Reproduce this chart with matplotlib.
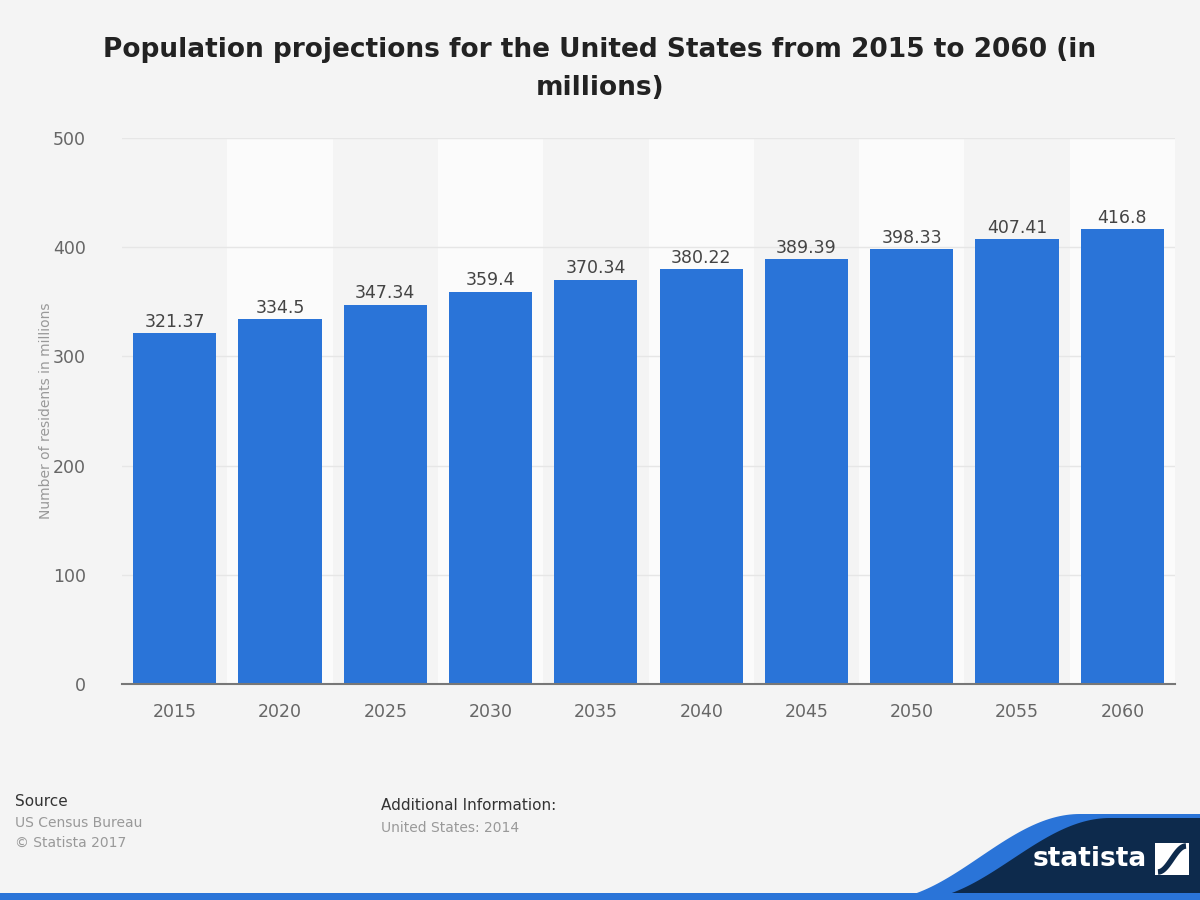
import numpy as np
import matplotlib.pyplot as plt
from matplotlib.patches import Polygon, Rectangle

years = ['2015', '2020', '2025', '2030', '2035', '2040', '2045', '2050', '2055', '2060']
residents = [321.37, 334.5, 347.34, 359.4, 370.34, 380.22, 389.39, 398.33, 407.41, 416.8]
value_labels = ['321.37', '334.5', '347.34', '359.4', '370.34', '380.22', '389.39', '398.33', '407.41', '416.8']

bg = '#f4f4f4'
bar_color = '#2a74d8'

fig = plt.figure(figsize=(12, 9), dpi=100, facecolor=bg)

# decoration layer in pixel coords
deco = fig.add_axes([0, 0, 1, 1], zorder=0)
deco.set_xlim(0, 1200)
deco.set_ylim(900, 0)
deco.axis('off')

t = np.linspace(0, 1, 60)
s = 0.5 - 0.5 * np.cos(np.pi * t)
# blue edge of the wave
xb = 880 + 200 * t
yb = 900 - 86 * s
blue = np.column_stack([np.r_[xb, 1200, 1200], np.r_[yb, 814, 900]])
deco.add_patch(Polygon(blue, closed=True, color=bar_color, lw=0))
xn = 915 + 195 * t
yn = 900 - 82 * s
navy = np.column_stack([np.r_[xn, 1200, 1200], np.r_[yn, 818, 900]])
deco.add_patch(Polygon(navy, closed=True, color='#0d2a4c', lw=0))
deco.add_patch(Rectangle((0, 893), 1200, 7, color=bar_color, lw=0))
deco.text(1090, 859, 'statista', color='white', fontsize=19, fontweight='bold',
          ha='center', va='center')
deco.add_patch(Rectangle((1155, 843), 34, 32, color='white', lw=0))
wx = np.linspace(1158, 1186, 30)
wy = 872 - 26 * (0.5 - 0.5 * np.cos(np.pi * (wx - 1158) / 28))
deco.plot(wx, wy, color='#0d2a4c', lw=4, solid_capstyle='butt')

deco.text(15, 802, 'Source', fontsize=11, color='#333333', va='center')
deco.text(15, 823, 'US Census Bureau', fontsize=10, color='#999999', va='center')
deco.text(15, 843, '\u00a9 Statista 2017', fontsize=10, color='#999999', va='center')
deco.text(381, 805, 'Additional Information:', fontsize=11, color='#333333', va='center')
deco.text(381, 828, 'United States: 2014', fontsize=10, color='#999999', va='center')

fig.text(0.5, 0.923, 'Population projections for the United States from 2015 to 2060 (in\nmillions)',
         ha='center', va='center', fontsize=19, fontweight='bold', color='#222222',
         linespacing=1.6)

ax = fig.add_axes([0.1017, 0.24, 0.8775, 0.6067], zorder=1)
ax.set_facecolor(bg)
x = np.arange(len(years))
for i in x:
    if i % 2 == 1:
        ax.axvspan(i - 0.5, i + 0.5, color='#fbfbfb', lw=0, zorder=0)
ax.bar(x, residents, width=0.79, color=bar_color, zorder=3)
for xi, v, lab in zip(x, residents, value_labels):
    ax.text(xi, v + 2, lab, ha='center', va='bottom', fontsize=12.5, color='#444444', zorder=4)

ax.set_xlim(-0.5, len(years) - 0.5)
ax.set_ylim(0, 500)
ax.set_yticks([0, 100, 200, 300, 400, 500])
ax.set_xticks(x)
ax.set_xticklabels(years)
ax.grid(axis='y', color='#e6e6e6', lw=1, zorder=1)
ax.set_axisbelow(True)
for side in ['top', 'right', 'left']:
    ax.spines[side].set_visible(False)
ax.spines['bottom'].set_color('#777777')
ax.spines['bottom'].set_linewidth(1.5)
ax.spines['bottom'].set_zorder(5)
ax.tick_params(axis='both', length=0, labelsize=12.5, labelcolor='#666666')
ax.tick_params(axis='x', pad=14)
ax.tick_params(axis='y', pad=26)
ax.set_ylabel('Number of residents in millions', fontsize=10, color='#999999', labelpad=0)

fig.savefig('out.png', dpi=100, facecolor=bg)
